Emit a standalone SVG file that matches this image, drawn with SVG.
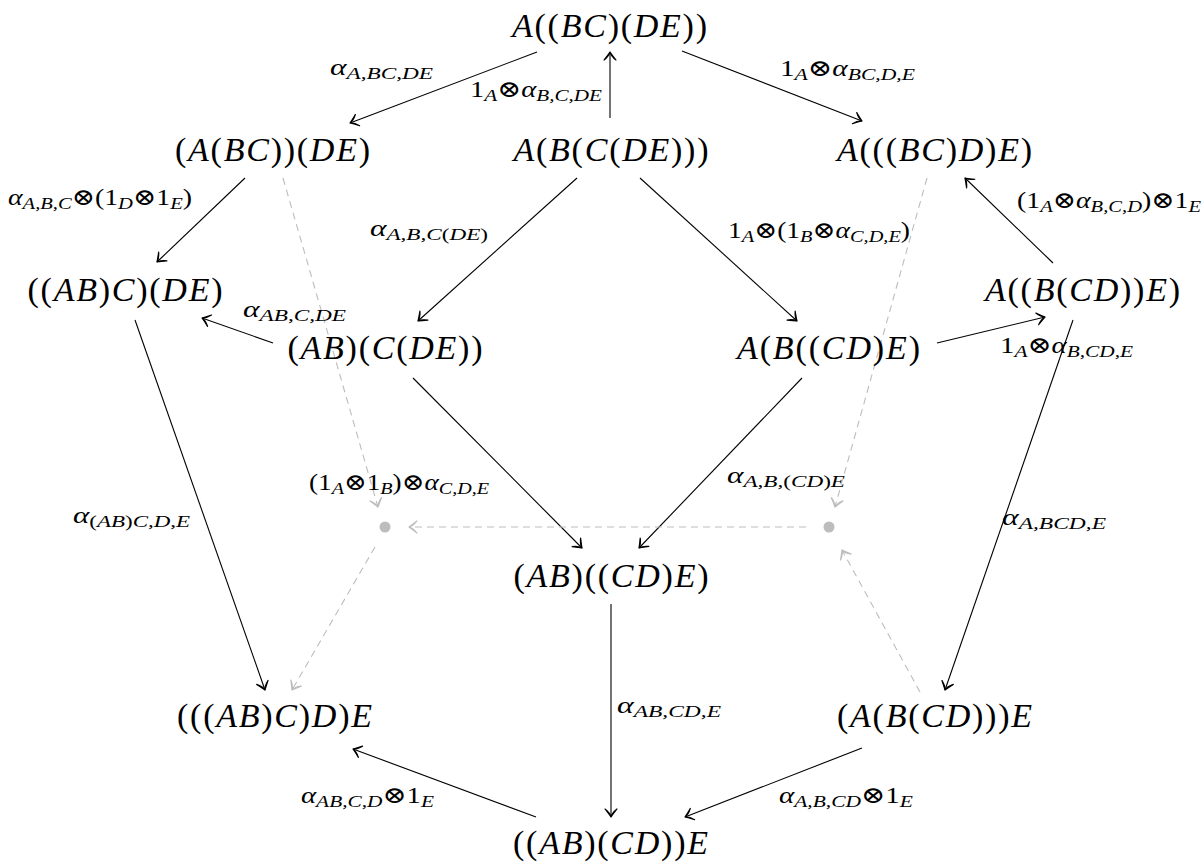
<svg xmlns="http://www.w3.org/2000/svg" width="1204" height="865" viewBox="0 0 1204 865">
<style>
text{font-family:'Liberation Serif','Times New Roman','DejaVu Serif',serif}
.nd{font-size:34px;fill:#000;text-anchor:middle}
.i{font-style:italic}
.lb{font-size:23px;fill:#000}
.sb{font-size:17px;font-style:italic}
.up{font-style:normal}
.e{stroke:#000;stroke-width:1.1;fill:none;marker-end:url(#ah)}
.g{stroke:#bdbdbd;stroke-width:1.1;fill:none;stroke-dasharray:7 5;marker-end:url(#ag)}
.dot{fill:#bdbdbd}
</style>
<defs>
<marker id="ah" markerWidth="20" markerHeight="20" viewBox="0 0 20 20" refX="10" refY="10" orient="auto" markerUnits="userSpaceOnUse">
<path d="M2,4 Q7,8 10,10 Q7,12 2,16 Q6,11 10,10 Q6,9 2,4 Z" fill="#000" stroke="#000" stroke-width="1.2" stroke-linecap="round" stroke-linejoin="round"/>
</marker>
<marker id="ag" markerWidth="20" markerHeight="20" viewBox="0 0 20 20" refX="10" refY="10" orient="auto" markerUnits="userSpaceOnUse">
<path d="M2,4 Q7,8 10,10 Q7,12 2,16 Q6,11 10,10 Q6,9 2,4 Z" fill="#bdbdbd" stroke="#bdbdbd" stroke-width="1.2" stroke-linecap="round" stroke-linejoin="round"/>
</marker>
</defs>
<rect width="1204" height="865" fill="#fff"/>

<g id="connectors">
<line class="e" x1="537" y1="52" x2="350" y2="123"/>
<line class="e" x1="610" y1="118" x2="610" y2="52"/>
<line class="e" x1="682" y1="51" x2="862" y2="121"/>
<line class="e" x1="245" y1="178" x2="157" y2="262"/>
<line class="e" x1="577" y1="178" x2="418" y2="321"/>
<line class="e" x1="640" y1="178" x2="797" y2="321"/>
<line class="e" x1="1053" y1="263" x2="965" y2="178"/>
<line class="e" x1="273" y1="343" x2="202" y2="318"/>
<line class="e" x1="937" y1="343" x2="1045" y2="317"/>
<line class="e" x1="413" y1="378" x2="582" y2="548"/>
<line class="e" x1="802" y1="378" x2="639" y2="548"/>
<line class="e" x1="135" y1="320" x2="265" y2="690"/>
<line class="e" x1="1073" y1="320" x2="945" y2="690"/>
<line class="e" x1="611" y1="604" x2="611" y2="817"/>
<line class="e" x1="536" y1="817" x2="353" y2="749"/>
<line class="e" x1="862" y1="748" x2="685" y2="817"/>
<line class="g" x1="283" y1="178" x2="378" y2="507"/>
<line class="g" x1="927" y1="178" x2="835" y2="507"/>
<line class="g" x1="806" y1="527" x2="409" y2="527"/>
<line class="g" x1="375" y1="547" x2="292" y2="690"/>
<line class="g" x1="920" y1="692" x2="842" y2="550"/>
</g>

<g id="dot-left"><circle class="dot" cx="385" cy="527" r="5.5"/></g>
<g id="dot-right"><circle class="dot" cx="829" cy="527" r="5.5"/></g>

<g id="n1"><text class="nd" x="609.5" y="37" textLength="195" lengthAdjust="spacing"><tspan class="i">A</tspan>((<tspan class="i">BC</tspan>)(<tspan class="i">DE</tspan>))</text></g>
<g id="n2"><text class="nd" x="272.5" y="161" textLength="195" lengthAdjust="spacing">(<tspan class="i">A</tspan>(<tspan class="i">BC</tspan>))(<tspan class="i">DE</tspan>)</text></g>
<g id="n3"><text class="nd" x="611" y="161" textLength="195" lengthAdjust="spacing"><tspan class="i">A</tspan>(<tspan class="i">B</tspan>(<tspan class="i">C</tspan>(<tspan class="i">DE</tspan>)))</text></g>
<g id="n4"><text class="nd" x="934.5" y="161" textLength="195" lengthAdjust="spacing"><tspan class="i">A</tspan>(((<tspan class="i">BC</tspan>)<tspan class="i">D</tspan>)<tspan class="i">E</tspan>)</text></g>
<g id="n5"><text class="nd" x="125" y="301" textLength="195" lengthAdjust="spacing">((<tspan class="i">AB</tspan>)<tspan class="i">C</tspan>)(<tspan class="i">DE</tspan>)</text></g>
<g id="n6"><text class="nd" x="1082.5" y="301" textLength="195" lengthAdjust="spacing"><tspan class="i">A</tspan>((<tspan class="i">B</tspan>(<tspan class="i">CD</tspan>))<tspan class="i">E</tspan>)</text></g>
<g id="n7"><text class="nd" x="385" y="359" textLength="195" lengthAdjust="spacing">(<tspan class="i">AB</tspan>)(<tspan class="i">C</tspan>(<tspan class="i">DE</tspan>))</text></g>
<g id="n8"><text class="nd" x="828.5" y="359" textLength="183" lengthAdjust="spacing"><tspan class="i">A</tspan>(<tspan class="i">B</tspan>((<tspan class="i">CD</tspan>)<tspan class="i">E</tspan>)</text></g>
<g id="n9"><text class="nd" x="611" y="587" textLength="195" lengthAdjust="spacing">(<tspan class="i">AB</tspan>)((<tspan class="i">CD</tspan>)<tspan class="i">E</tspan>)</text></g>
<g id="n10"><text class="nd" x="274.5" y="727" textLength="195" lengthAdjust="spacing">(((<tspan class="i">AB</tspan>)<tspan class="i">C</tspan>)<tspan class="i">D</tspan>)<tspan class="i">E</tspan></text></g>
<g id="n11"><text class="nd" x="934.5" y="727" textLength="195" lengthAdjust="spacing">(<tspan class="i">A</tspan>(<tspan class="i">B</tspan>(<tspan class="i">CD</tspan>)))<tspan class="i">E</tspan></text></g>
<g id="n12"><text class="nd" x="610.5" y="854" textLength="195" lengthAdjust="spacing">((<tspan class="i">AB</tspan>)(<tspan class="i">CD</tspan>))<tspan class="i">E</tspan></text></g>

<g id="edge-labels">
<text class="lb" x="330" y="75" textLength="103" lengthAdjust="spacingAndGlyphs"><tspan class="i">α</tspan><tspan class="sb" dy="4">A,BC,DE</tspan></text>
<text class="lb" x="470" y="97" textLength="132" lengthAdjust="spacingAndGlyphs">1<tspan class="sb" dy="4">A</tspan><tspan dy="-4">⊗</tspan><tspan class="i">α</tspan><tspan class="sb" dy="4">B,C,DE</tspan></text>
<text class="lb" x="780" y="76" textLength="135" lengthAdjust="spacingAndGlyphs">1<tspan class="sb" dy="4">A</tspan><tspan dy="-4">⊗</tspan><tspan class="i">α</tspan><tspan class="sb" dy="4">BC,D,E</tspan></text>
<text class="lb" x="8" y="205" textLength="184" lengthAdjust="spacingAndGlyphs"><tspan class="i">α</tspan><tspan class="sb" dy="4">A,B,C</tspan><tspan dy="-4">⊗(1</tspan><tspan class="sb" dy="4">D</tspan><tspan dy="-4">⊗1</tspan><tspan class="sb" dy="4">E</tspan><tspan dy="-4">)</tspan></text>
<text class="lb" x="370" y="236" textLength="118" lengthAdjust="spacingAndGlyphs"><tspan class="i">α</tspan><tspan class="sb" dy="4">A,B,C<tspan class="up">(</tspan>DE<tspan class="up">)</tspan></tspan></text>
<text class="lb" x="728" y="238" textLength="182" lengthAdjust="spacingAndGlyphs">1<tspan class="sb" dy="4">A</tspan><tspan dy="-4">⊗(1</tspan><tspan class="sb" dy="4">B</tspan><tspan dy="-4">⊗</tspan><tspan class="i">α</tspan><tspan class="sb" dy="4">C,D,E</tspan><tspan dy="-4">)</tspan></text>
<text class="lb" x="1017" y="208" textLength="184" lengthAdjust="spacingAndGlyphs">(1<tspan class="sb" dy="4">A</tspan><tspan dy="-4">⊗</tspan><tspan class="i">α</tspan><tspan class="sb" dy="4">B,C,D</tspan><tspan dy="-4">)⊗1</tspan><tspan class="sb" dy="4">E</tspan></text>
<text class="lb" x="243" y="317" textLength="103" lengthAdjust="spacingAndGlyphs"><tspan class="i">α</tspan><tspan class="sb" dy="4">AB,C,DE</tspan></text>
<text class="lb" x="1000" y="353" textLength="133" lengthAdjust="spacingAndGlyphs">1<tspan class="sb" dy="4">A</tspan><tspan dy="-4">⊗</tspan><tspan class="i">α</tspan><tspan class="sb" dy="4">B,CD,E</tspan></text>
<text class="lb" x="309" y="490" textLength="180" lengthAdjust="spacingAndGlyphs">(1<tspan class="sb" dy="4">A</tspan><tspan dy="-4">⊗1</tspan><tspan class="sb" dy="4">B</tspan><tspan dy="-4">)⊗</tspan><tspan class="i">α</tspan><tspan class="sb" dy="4">C,D,E</tspan></text>
<text class="lb" x="727" y="483" textLength="118" lengthAdjust="spacingAndGlyphs"><tspan class="i">α</tspan><tspan class="sb" dy="4">A,B,<tspan class="up">(</tspan>CD<tspan class="up">)</tspan>E</tspan></text>
<text class="lb" x="73" y="523" textLength="117" lengthAdjust="spacingAndGlyphs"><tspan class="i">α</tspan><tspan class="sb" dy="4"><tspan class="up">(</tspan>AB<tspan class="up">)</tspan>C,D,E</tspan></text>
<text class="lb" x="1002" y="525" textLength="104" lengthAdjust="spacingAndGlyphs"><tspan class="i">α</tspan><tspan class="sb" dy="4">A,BCD,E</tspan></text>
<text class="lb" x="617" y="713" textLength="104" lengthAdjust="spacingAndGlyphs"><tspan class="i">α</tspan><tspan class="sb" dy="4">AB,CD,E</tspan></text>
<text class="lb" x="301" y="803" textLength="133" lengthAdjust="spacingAndGlyphs"><tspan class="i">α</tspan><tspan class="sb" dy="4">AB,C,D</tspan><tspan dy="-4">⊗1</tspan><tspan class="sb" dy="4">E</tspan></text>
<text class="lb" x="779" y="803" textLength="134" lengthAdjust="spacingAndGlyphs"><tspan class="i">α</tspan><tspan class="sb" dy="4">A,B,CD</tspan><tspan dy="-4">⊗1</tspan><tspan class="sb" dy="4">E</tspan></text>
</g>
</svg>
